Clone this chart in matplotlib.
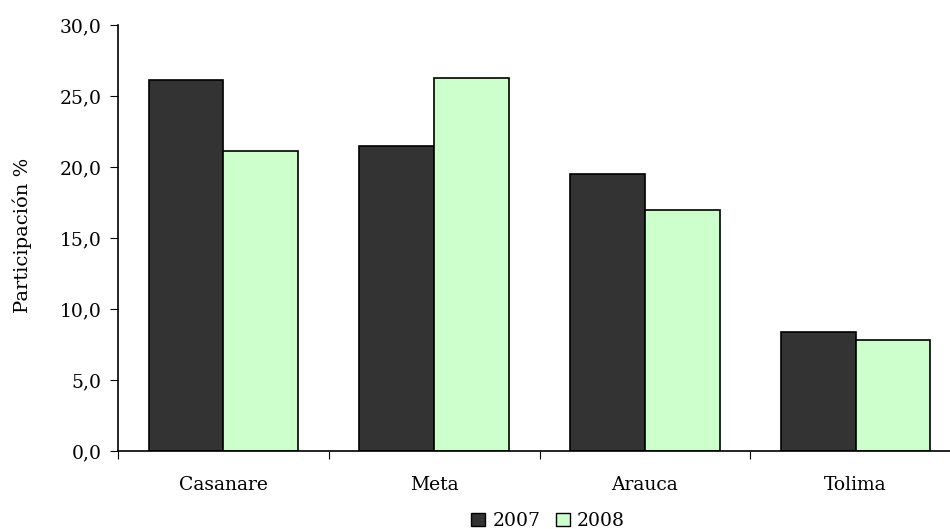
import matplotlib.pyplot as plt
import numpy as np
from matplotlib.patches import Patch

# datos
departamentos = ['Casanare', 'Meta', 'Arauca', 'Tolima']
part_2007 = [26.1, 21.5, 19.5, 8.4]
part_2008 = [21.1, 26.3, 17.0, 7.8]
yticks = [0, 5, 10, 15, 20, 25, 30]

fuente = 'DejaVu Serif'
fig = plt.figure(figsize=(9.5, 5.29), dpi=100)
ax = fig.add_axes([118/950, 1-451/529, (961-118)/950, (451-25)/529])

x = np.arange(len(departamentos))
ancho = 0.355
ax.bar(x - ancho/2, part_2007, ancho, color='#333333', edgecolor='black', linewidth=1.2)
ax.bar(x + ancho/2, part_2008, ancho, color='#ccffcc', edgecolor='black', linewidth=1.2)

ax.set_xlim(-0.5, len(departamentos) - 0.5)
ax.set_ylim(0, 30)
ax.set_yticks(yticks)
ax.set_yticklabels([('%.1f' % v).replace('.', ',') for v in yticks], family=fuente, fontsize=13.5)
ax.set_xticks(np.arange(len(departamentos) + 1) - 0.5)
ax.set_xticklabels([])
ax.set_xticks(x, minor=True)
ax.set_xticklabels(departamentos, minor=True, family=fuente, fontsize=13.5)
ax.tick_params(axis='x', which='minor', length=0, pad=18)
ax.tick_params(axis='x', which='major', length=6, direction='out')
ax.tick_params(axis='y', length=6, direction='out', pad=6)
for s in ['top', 'right']:
    ax.spines[s].set_visible(False)
ax.spines['left'].set_linewidth(1.2)
ax.spines['bottom'].set_linewidth(1.2)

ax.set_ylabel('Participación %', family=fuente, fontsize=14)
ax.yaxis.set_label_coords(-(118 - 32)/843, (451 - 235)/426)

handles = [Patch(facecolor='#333333', edgecolor='black'), Patch(facecolor='#ccffcc', edgecolor='black')]
fig.legend(handles, ['2007', '2008'], loc='center', bbox_to_anchor=(548/950, 1-521/529),
           ncol=2, frameon=False, handlelength=0.75, handleheight=0.75, handletextpad=0.4,
           columnspacing=0.8, borderpad=0, prop={'family': fuente, 'size': 13.5})

fig.savefig('out.png', dpi=100)
